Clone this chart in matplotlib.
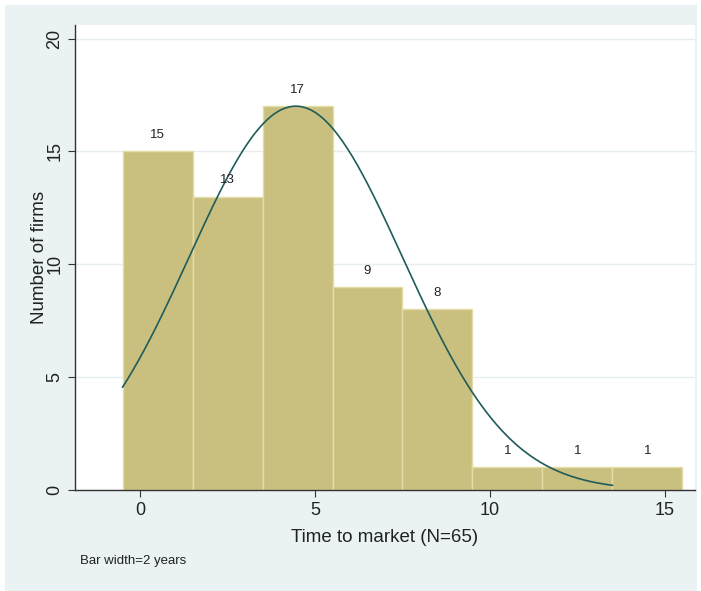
import numpy as np
from matplotlib import pyplot as plt
from matplotlib.patches import Rectangle

plt.rcParams['font.family'] = ['Liberation Sans', 'DejaVu Sans']

# histogram data (bin width 2 years, centred on 0, 2, 4, ...)
bin_edges = [-0.5, 1.5, 3.5, 5.5, 7.5, 9.5, 11.5, 13.5, 15.5]
counts = [15, 13, 17, 9, 8, 1, 1, 1]
n_firms = 65
bar_width = 2

mu = 4.45
sigma = 3.05
curve_start, curve_end = -0.5, 13.5

x_ticks = [0, 5, 10, 15]
y_ticks = [0, 5, 10, 15, 20]

bar_color = '#C9C07F'
bar_edge = '#E4DDA6'
curve_color = '#1F5C5A'
panel_color = '#EAF2F3'

fig = plt.figure(figsize=(7.01, 5.91), dpi=100, facecolor='white')
fig.patches.append(Rectangle((5 / 701, 0), 692 / 701, 586 / 591,
                             transform=fig.transFigure, facecolor=panel_color,
                             edgecolor='none', zorder=-10))

ax = fig.add_axes([75 / 701, 1 - 490 / 591, 620 / 701, 465 / 591])
ax.set_facecolor('white')

lefts = bin_edges[:-1]
ax.bar(lefts, counts, width=bar_width, align='edge', color=bar_color,
       edgecolor=bar_edge, linewidth=1.0, zorder=2)

for l, c in zip(lefts, counts):
    ax.text(l + bar_width / 2, c + 0.45, str(c), ha='center', va='bottom',
            fontsize=9.5, color='#222222', zorder=4)

xs = np.linspace(curve_start, curve_end, 300)
pdf = np.exp(-0.5 * ((xs - mu) / sigma) ** 2) / (sigma * np.sqrt(2 * np.pi))
ax.plot(xs, n_firms * bar_width * pdf, color=curve_color, linewidth=1.2, zorder=3)

ax.set_xlim(-1.86, 15.86)
ax.set_ylim(0, 20.6)
ax.set_xticks(x_ticks)
ax.set_yticks(y_ticks)
ax.grid(axis='y', color='#E6EDEE', linewidth=1.0, zorder=0)
ax.set_axisbelow(True)

for s in ['top', 'right']:
    ax.spines[s].set_visible(False)
for s in ['left', 'bottom']:
    ax.spines[s].set_color('#333333')
    ax.spines[s].set_linewidth(1.0)

ax.tick_params(axis='both', direction='out', length=5, width=0.8,
               colors='#333333', labelsize=13, labelcolor='#222222')
for lab in ax.get_yticklabels():
    lab.set_rotation(90)
    lab.set_va('center')

ax.set_xlabel('Time to market (N=65)', fontsize=13.5, color='#222222', labelpad=7)
ax.set_ylabel('Number of firms', fontsize=13.5, color='#222222', labelpad=-1)

fig.text(80 / 701, 1 - 561 / 591, 'Bar width=2 years', fontsize=9.5,
         color='#222222', va='center', ha='left')

plt.savefig('out.png', dpi=100, facecolor=fig.get_facecolor())
